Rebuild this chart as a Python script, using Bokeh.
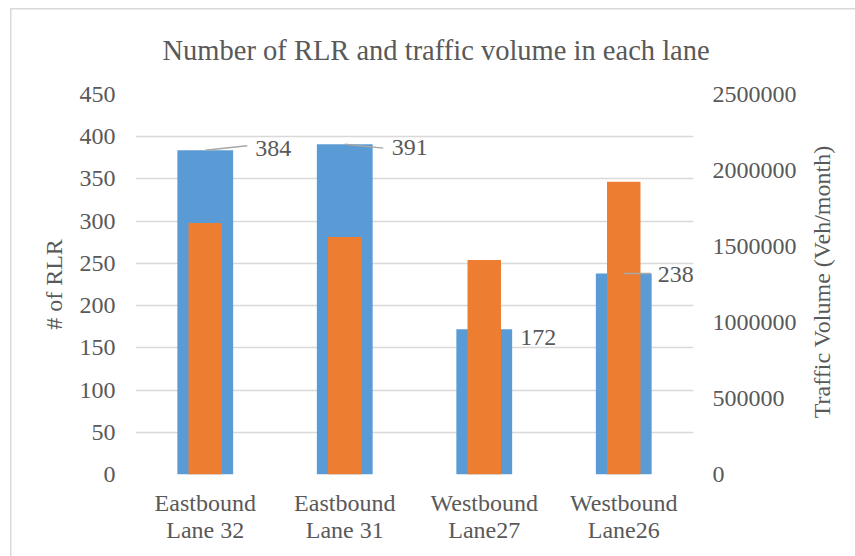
import math

from bokeh.plotting import figure
from bokeh.models import (FactorRange, Range1d, LinearAxis, FixedTicker,
                          BasicTickFormatter, ColumnDataSource, LabelSet, Label)
from bokeh.embed import file_html
from bokeh.resources import INLINE

# --- data -------------------------------------------------------------
lanes = ["Eastbound\nLane 32", "Eastbound\nLane 31", "Westbound\nLane27", "Westbound\nLane26"]
rlr_counts = [384, 391, 172, 238]
traffic_volume = [1654000, 1562000, 1412000, 1926000]
rlr_ticks = [0, 50, 100, 150, 200, 250, 300, 350, 400, 450]
volume_ticks = [0, 500000, 1000000, 1500000, 2000000, 2500000]

# --- styling ----------------------------------------------------------
FONT = "Liberation Serif"
TEXT = "#595959"
GRID = "#d9d9d9"
BLUE = "#5b9bd5"
ORANGE = "#ed7d31"
FRAME_W, FRAME_H = 558, 380

# data-label placement (pixels right / up from the top centre of each bar)
label_dx = [50, 47, 36, 34]
label_dy = [2, -3, -8, -1]
# leader line end points (pixels), None where no leader is drawn
leader_end = [(42, 4.5), (38.5, -3.8), None, (27, 0)]

p = figure(
    x_range=FactorRange(*lanes),
    y_range=Range1d(0, rlr_ticks[-1]),
    frame_width=FRAME_W, frame_height=FRAME_H,
    min_border_left=135, min_border_right=162,
    min_border_top=94, min_border_bottom=82,
    output_backend="svg", toolbar_location=None,
    title="Number of RLR and traffic volume in each lane",
)
# chart-area border (left and top edges) painted behind the transparent canvas
p.styles = {
    "background": (
        "linear-gradient(#d9d9d9, #d9d9d9) 10px 8px / 1.5px 100% no-repeat, "
        "linear-gradient(#d9d9d9, #d9d9d9) 10px 8px / 100% 1.5px no-repeat, #ffffff"
    )
}
p.outline_line_color = None
p.background_fill_color = "white"
p.border_fill_color = None

p.title.text_font = FONT
p.title.text_font_size = "28.5px"
p.title.text_font_style = "normal"
p.title.text_color = TEXT
p.title.align = "left"
p.title.offset = 27
p.title.standoff = 58

p.extra_y_ranges = {"vol": Range1d(0, volume_ticks[-1])}

# bars: RLR counts on the left scale, traffic volume on the right scale
src = ColumnDataSource(dict(lane=lanes, rlr=rlr_counts, vol=traffic_volume))
p.vbar(x="lane", top="rlr", width=0.4, source=src, fill_color=BLUE, line_color=None)
p.vbar(x="lane", top="vol", width=0.24, source=src, fill_color=ORANGE,
       line_color=None, y_range_name="vol")

# leader lines from the bar tops to their labels
px_x = 1.0 / (FRAME_W / len(lanes))
px_y = rlr_ticks[-1] / FRAME_H
x0, y0, x1, y1 = [], [], [], []
for lane, v, end in zip(lanes, rlr_counts, leader_end):
    if end is None:
        continue
    x0.append((lane, 0.0))
    y0.append(v)
    x1.append((lane, end[0] * px_x))
    y1.append(v + end[1] * px_y)
p.segment(x0=x0, y0=y0, x1=x1, y1=y1, line_color="#a6a6a6", line_width=1.5)

# data labels
lab = ColumnDataSource(dict(lane=lanes, rlr=rlr_counts, txt=[str(v) for v in rlr_counts],
                            dx=label_dx, dy=label_dy))
p.add_layout(LabelSet(x="lane", y="rlr", text="txt", x_offset="dx", y_offset="dy",
                      source=lab, text_font=FONT, text_font_size="24px",
                      text_color=TEXT, text_baseline="middle", text_align="left"))

# axes and grid
p.xgrid.grid_line_color = None
p.ygrid.ticker = FixedTicker(ticks=rlr_ticks)
p.ygrid.grid_line_color = GRID
p.ygrid.grid_line_width = 1.3

p.yaxis.ticker = FixedTicker(ticks=rlr_ticks)
p.yaxis.axis_label = "# of RLR"

right = LinearAxis(y_range_name="vol", ticker=FixedTicker(ticks=volume_ticks),
                   formatter=BasicTickFormatter(use_scientific=False))
p.add_layout(right, "right")

# title of the right scale, reading bottom-to-top beside the tick labels
right_title = Label(x=821, y=rlr_ticks[-1] * 0.507, x_units="canvas", y_units="data",
                    text="Traffic Volume (Veh/month)", angle=math.pi / 2,
                    text_font=FONT, text_font_size="24px", text_color=TEXT,
                    text_align="center", text_baseline="middle")
p.add_layout(right_title, "right")

for ax in [p.xaxis[0], p.yaxis[0], right]:
    ax.axis_line_color = None
    ax.major_tick_line_color = None
    ax.minor_tick_line_color = None
    ax.major_tick_in = 0
    ax.major_tick_out = 0
    ax.major_label_text_font = FONT
    ax.major_label_text_font_size = "24px"
    ax.major_label_text_color = TEXT
    ax.axis_label_text_font = FONT
    ax.axis_label_text_font_size = "24px"
    ax.axis_label_text_font_style = "normal"
    ax.axis_label_text_color = TEXT

p.xaxis[0].major_label_text_line_height = 1.05
p.yaxis[0].major_label_standoff = 20
p.yaxis[0].axis_label_standoff = 10
right.major_label_standoff = 19
p.xaxis[0].major_label_standoff = 15

open("out.html", "w").write(file_html(p, INLINE))
